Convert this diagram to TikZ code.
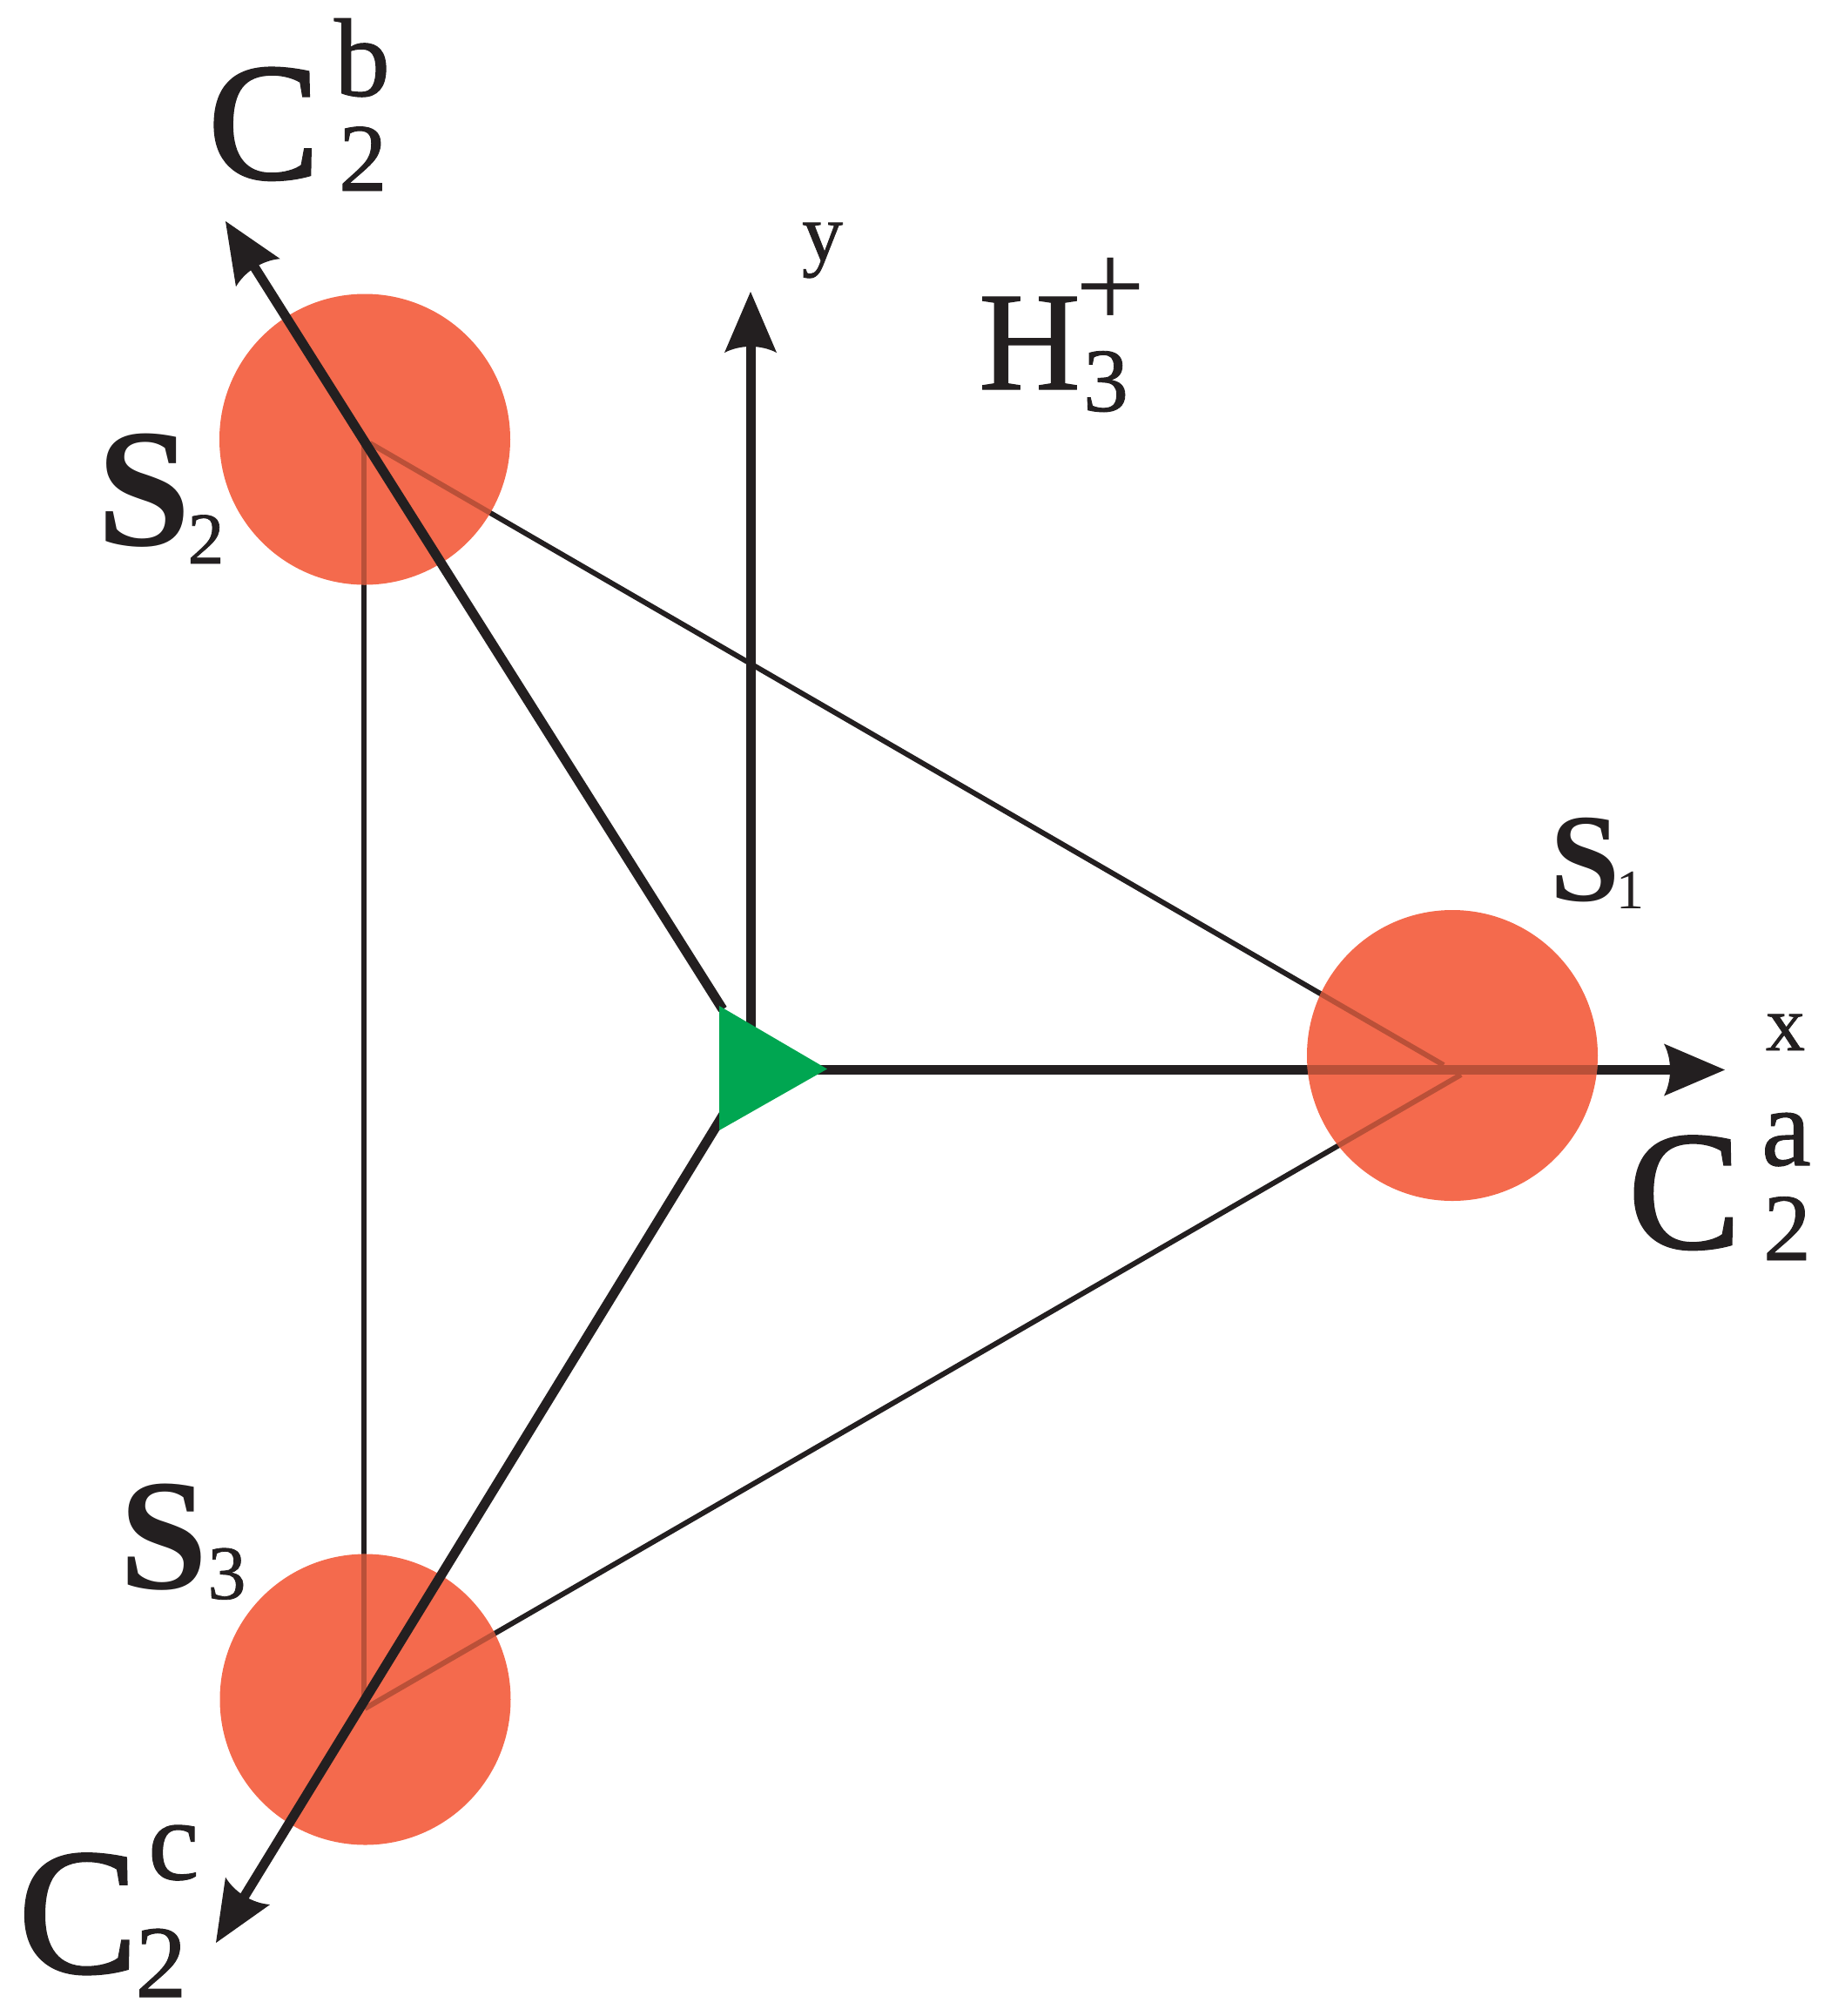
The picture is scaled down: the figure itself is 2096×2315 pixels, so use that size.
\documentclass[tikz,border=0pt]{standalone}
\usepackage{fontspec}
\setmainfont{Liberation Serif}
\newfontfamily\heavyface[FakeBold=1.5]{Liberation Serif}
\newfontfamily\midface[FakeBold=0.8]{Liberation Serif}
\usetikzlibrary{arrows.meta}
\definecolor{ink}{HTML}{231F20}
\definecolor{atom}{HTML}{F46A4D}
\definecolor{under}{HTML}{BA5038}
\definecolor{axisgreen}{HTML}{00A651}
\pgfdeclarearrow{
  name=Barbed,
  setup code={
    \pgfarrowssettipend{0pt}
    \pgfarrowssetlineend{-31pt}
    \pgfarrowssetbackend{-35pt}
    \pgfarrowssetvisualbackend{-31pt}
    \pgfarrowshullpoint{0pt}{0pt}
    \pgfarrowshullpoint{-35pt}{15pt}
    \pgfarrowshullpoint{-35pt}{-15pt}
  },
  drawing code={
    \pgfpathmoveto{\pgfqpoint{0pt}{0pt}}
    \pgfpathlineto{\pgfqpoint{-35pt}{15pt}}
    \pgfpathcurveto{\pgfqpoint{-30.3pt}{6pt}}{\pgfqpoint{-30.3pt}{-6pt}}{\pgfqpoint{-35pt}{-15pt}}
    \pgfpathclose
    \pgfusepathqfill
  }
}
\tikzset{
  x=0.5pt,y=-0.5pt,
  lbl/.style={anchor=base west,inner sep=0pt,outer sep=0pt,text=ink},
  atomdot/.style={circle,fill=atom,draw=none,inner sep=0pt,minimum size=167pt},
  thinline/.style={line width=3pt},
  axis/.style={line width=5.5pt,-{Barbed[]}},
  plainaxis/.style={line width=5.5pt},
}
\newcommand{\fsz}[1]{\fontsize{#1}{#1}\selectfont}
\begin{document}
\begin{tikzpicture}
\useasboundingbox (0,0) rectangle (2096,2315);
% named points
\coordinate (v2a) at (425,509);
\coordinate (v2b) at (418,509);
\coordinate (v1a) at (1658,1223);
\coordinate (v1b) at (1678,1234);
\coordinate (v3a) at (419,1962);
\coordinate (v3b) at (418,1960);
\coordinate (o) at (862,1180);
\coordinate (gt) at (826,1155);
\coordinate (gb) at (826,1298);
\coordinate (gr) at (950,1227.5);
\coordinate (xstart) at (930,1228.5);
\coordinate (gbt) at (830,1159);
\coordinate (gbb) at (835,1273);
\coordinate (xend) at (1981,1228.5);
\coordinate (yend) at (862,335);
\coordinate (bend) at (259,254);
\coordinate (cend) at (248,2231);
% under-lying lines
\draw[ink,thinline] (v2a) -- (v1a);
\draw[ink,thinline] (v1b) -- (v3a);
\draw[ink,thinline] (v2b) -- (v3b);
\draw[ink,axis] (xstart) -- (xend);
\draw[ink,axis] (o) -- (yend);
% atoms
\node[atomdot] (s1) at (1668,1212) {};
\node[atomdot] (s2) at (419,504.5) {};
\node[atomdot] (s3) at (419.5,1951.5) {};
% lines seen through the atoms
\begin{scope}
\clip (s1.center) circle [radius=83.5pt];
\draw[under,thinline] (v2a) -- (v1a);
\draw[under,thinline] (v1b) -- (v3a);
\draw[under,plainaxis] (xstart) -- (xend);
\end{scope}
\begin{scope}
\clip (s2.center) circle [radius=83.5pt];
\draw[under,thinline] (v2a) -- (v1a);
\draw[under,thinline] (v2b) -- (v3b);
\end{scope}
\begin{scope}
\clip (s3.center) circle [radius=83.5pt];
\draw[under,thinline] (v1b) -- (v3a);
\draw[under,thinline] (v2b) -- (v3b);
\end{scope}
% C2 axes over the atoms
\draw[ink,axis] (gbt) -- (bend);
\draw[ink,axis] (gbb) -- (cend);
% centre
\fill[axisgreen] (gt) -- (gr) -- (gb) -- cycle;
% labels
\node[lbl,font=\heavyface\fsz{96}] (cb) at (239,205) {C};
\node[lbl,font=\midface\fsz{64}] (cbs) at (384,110) {b};
\node[lbl,font=\midface\fsz{55.5}] (cb2) at (389,219) {2};
\node[lbl,font=\heavyface\fsz{97}] (ca) at (1870,1433) {C};
\node[lbl,font=\midface\fsz{64}] (cas) at (2023,1338) {a};
\node[lbl,font=\midface\fsz{55}] (ca2) at (2025,1447) {2};
\node[lbl,font=\heavyface\fsz{103}] (cc) at (21,2265) {C};
\node[lbl,font=\midface\fsz{66}] (ccs) at (170,2158) {c};
\node[lbl,font=\midface\fsz{59}] (cc2) at (155.5,2293) {2};
\node[lbl,font=\fsz{97}\bfseries] (l2) at (111,626) {S};
\node[lbl,font=\midface\fsz{42}] (l2s) at (215.5,647) {2};
\node[lbl,font=\fsz{72}\bfseries] (l1) at (1780,1034) {S};
\node[lbl,font=\fsz{32}] (l1s) at (1856,1043) {1};
\node[lbl,font=\fsz{91}\bfseries] (l3) at (137,1824) {S};
\node[lbl,font=\midface\fsz{44}] (l3s) at (238.5,1836) {3};
\node[lbl,font=\midface\fsz{45}] (xl) at (2028,1206) {x};
\node[lbl,font=\midface\fsz{47}] (yl) at (921,299) {y};
\node[lbl,font=\midface\fsz{81}] (h) at (1124,447) {H};
\node[lbl,font=\midface\fsz{52}] (h3) at (1244,472) {3};
\node[lbl,font=\fsz{71}] (hp) at (1235,376) {+};
\end{tikzpicture}
\end{document}
